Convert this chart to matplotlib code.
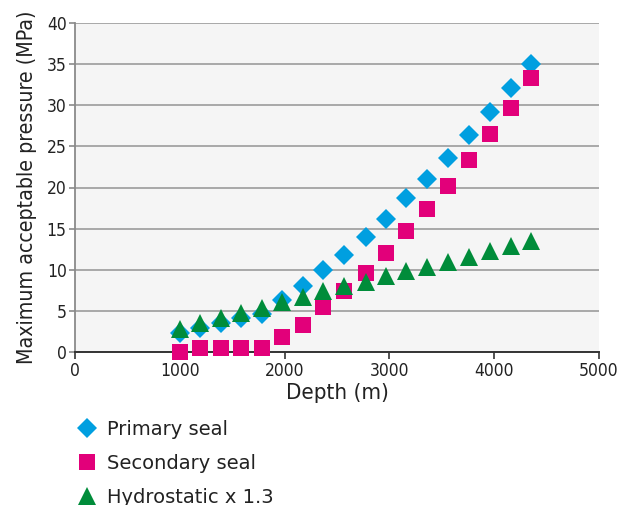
import matplotlib
matplotlib.use("Agg")
import matplotlib.pyplot as plt
from matplotlib import font_manager

# depths (m)
depth = [1000, 1190, 1390, 1585, 1780, 1975, 2180, 2365, 2570, 2775,
         2965, 3160, 3360, 3560, 3760, 3960, 4160, 4350]

primary_seal = [2.4, 2.9, 3.6, 4.2, 4.7, 6.4, 8.0, 10.0, 11.8, 14.0,
                16.2, 18.7, 21.0, 23.6, 26.4, 29.2, 32.1, 35.0]
secondary_seal = [0.0, 0.5, 0.5, 0.5, 0.5, 1.8, 3.3, 5.5, 7.4, 9.6,
                  12.0, 14.7, 17.4, 20.2, 23.3, 26.5, 29.7, 33.3]
hydrostatic = [2.8, 3.6, 4.2, 4.8, 5.4, 6.1, 6.7, 7.5, 8.0, 8.5,
               9.2, 9.9, 10.4, 10.9, 11.6, 12.3, 12.9, 13.5]

x_ticks = [0, 1000, 2000, 3000, 4000, 5000]
y_ticks = [0, 5, 10, 15, 20, 25, 30, 35, 40]

blue = '#009fe0'
magenta = '#e2007a'
green = '#008c3a'

# condensed face for the axis text
names = {f.name for f in font_manager.fontManager.ttflist}
if 'Liberation Sans Narrow' in names:
    narrow = dict(family='Liberation Sans Narrow')
else:
    narrow = dict(family='DejaVu Sans', stretch='condensed')

fig = plt.figure(figsize=(6.18, 5.05), dpi=100)
ax = fig.add_axes([75 / 618, 1 - 352.3 / 505, 524 / 618, 329.6 / 505])
ax.set_facecolor('#f5f5f5')

ax.plot(depth, primary_seal, 'D', color=blue, markersize=10.3, mew=0,
        label='Primary seal', clip_on=False, zorder=3)
ax.plot(depth, secondary_seal, 's', color=magenta, markersize=11, mew=0,
        label='Secondary seal', clip_on=False, zorder=3)
ax.plot(depth, hydrostatic, '^', color=green, markersize=13, mew=0,
        label='Hydrostatic x 1.3', clip_on=False, zorder=4)

ax.set_xlim(0, 5000)
ax.set_ylim(0, 40)
ax.set_xticks(x_ticks)
ax.set_yticks(y_ticks)
ax.grid(axis='y', color='#a8a8a8', linewidth=1.4)
ax.set_axisbelow(True)

for s in ['top', 'right']:
    ax.spines[s].set_visible(False)
ax.spines['left'].set_color('#8a8a8a')
ax.spines['left'].set_linewidth(1.3)
ax.spines['bottom'].set_color('#333333')
ax.spines['bottom'].set_linewidth(1.4)
ax.tick_params(axis='y', colors='#8a8a8a', length=4, width=1.2, labelcolor='#222222', pad=2)
ax.tick_params(axis='x', colors='#333333', length=5, width=1.2, labelcolor='#222222', pad=2)
for lab in ax.get_xticklabels() + ax.get_yticklabels():
    lab.set_fontfamily(narrow['family'])
    lab.set_fontstretch(narrow.get('stretch', 'normal'))
    lab.set_fontsize(12.5)

ax.set_xlabel('Depth (m)', fontsize=16, color='#222222', labelpad=2, **narrow)
ax.set_ylabel('Maximum acceptable pressure (MPa)', fontsize=15.3,
              color='#222222', labelpad=7, **narrow)

fig.legend(loc='upper left', bbox_to_anchor=(77 / 618, 1 - 420 / 505), frameon=False,
           fontsize=14, handlelength=1.0, handletextpad=0.55, labelspacing=0.76,
           borderpad=0, borderaxespad=0, labelcolor='#222222')

fig.savefig('out.png', dpi=100)
